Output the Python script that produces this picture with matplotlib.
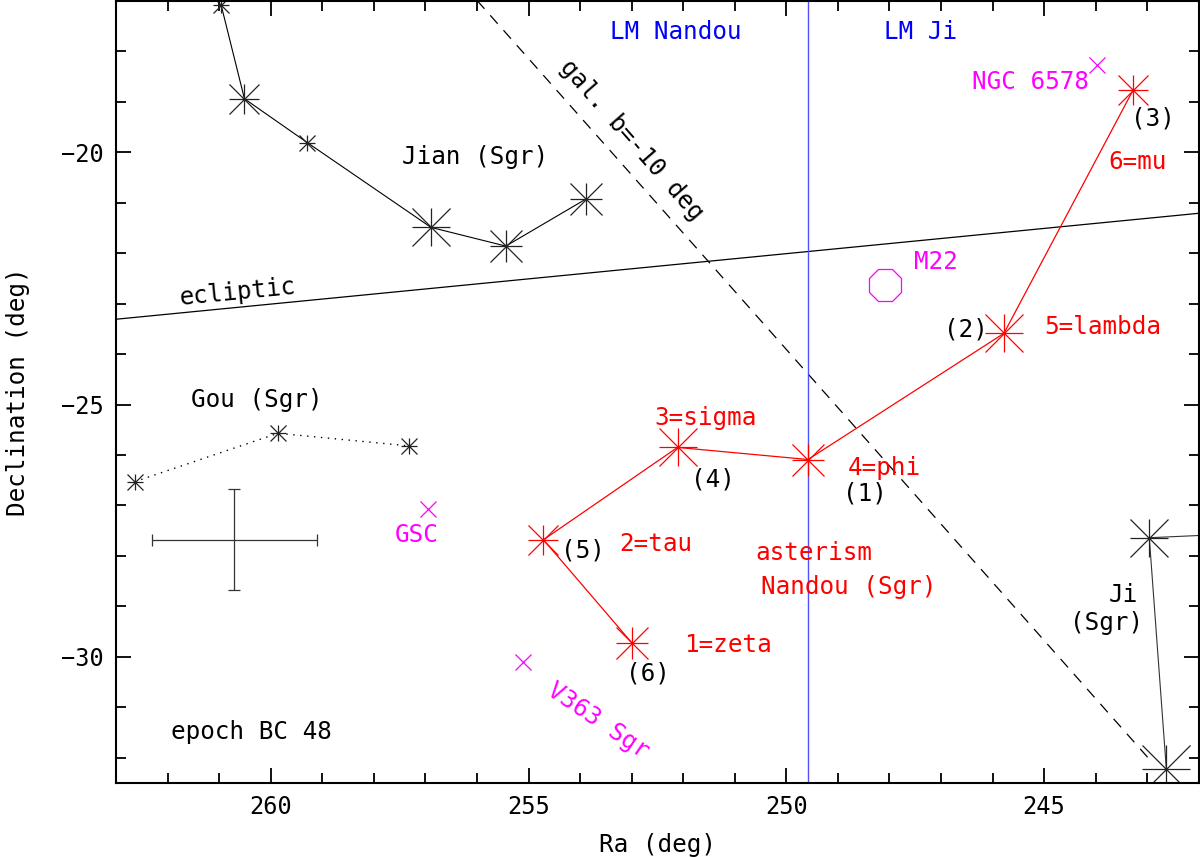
import numpy as np
import matplotlib
matplotlib.use("Agg")
import matplotlib.pyplot as plt
from matplotlib.ticker import MultipleLocator

plt.rcParams['font.family'] = ['DejaVu Sans Mono']

# Jian (Sgr)
jian_ra = [260.96, 260.51, 259.29, 256.89, 255.44, 253.89]
jian_dec = [-17.09, -18.94, -19.81, -21.49, -21.86, -20.93]
jian_ms = [11, 22, 11, 28, 23, 23]

# Gou (Sgr)
gou_ra = [262.64, 259.86, 257.32]
gou_dec = [-26.53, -25.57, -25.82]

# Nandou (Sgr) asterism: zeta, tau, sigma, phi, lambda, mu
nan_ra = [252.99, 254.71, 252.11, 249.58, 245.78, 243.27]
nan_dec = [-29.73, -27.68, -25.85, -26.09, -23.59, -18.76]
nan_ms = [23, 22, 27, 23, 27, 22]
nan_names = ["1=zeta", "2=tau", "3=sigma", "4=phi", "5=lambda", "6=mu"]
nan_order = ["(6)", "(5)", "(4)", "(1)", "(2)", "(3)"]

# Ji (Sgr)
ji_ra = [241.0, 242.96, 242.63]
ji_dec = [-27.55, -27.64, -32.22]
ji_ms = [0, 28, 34]

# ecliptic and galactic b=-10
ecl_ra = [263.0, 242.0]
ecl_dec = [-23.31, -21.21]
gal_ra = [256.00, 250.90, 242.95]
gal_dec = [-16.99, -22.87, -32.04]

# lunar mansion boundary
lm_ra = 249.58

# other objects
xobj_ra = [243.98, 256.94, 255.11]
xobj_dec = [-18.28, -27.08, -30.11]
m22_ra, m22_dec = 248.09, -22.63

# error cross
err_ra, err_dec = 260.71, -27.68
err_x, err_y = 1.6, 1.0

fig = plt.figure(figsize=(12, 8.57), dpi=100)
ax = fig.add_axes([0.0967, 0.0864, 0.9023, 0.9126])


def star(x, y, ms, color):
    ax.plot(x, y, marker='+', ms=ms, mew=0.9, color=color, ls='none')
    ax.plot(x, y, marker='x', ms=ms, mew=0.9, color=color, ls='none')
    ax.plot(x, y, marker='.', ms=3, color=color, ls='none')


# lines
ax.plot(ecl_ra, ecl_dec, color='black', lw=0.9)
ax.plot(gal_ra, gal_dec, color='black', lw=0.9, dashes=(9, 7))
ax.axvline(lm_ra, color='#5050ff', lw=1.0)

ax.plot(jian_ra, jian_dec, color='black', lw=0.8)
for x, y, s in zip(jian_ra, jian_dec, jian_ms):
    star(x, y, s, '#222222')

ax.plot(gou_ra, gou_dec, color='black', lw=1.0, ls=(0, (1, 4)))
for x, y in zip(gou_ra, gou_dec):
    star(x, y, 12, '#222222')

ax.plot(ji_ra, ji_dec, color='#333333', lw=0.8)
for x, y, s in zip(ji_ra, ji_dec, ji_ms):
    if s > 0:
        star(x, y, s, '#222222')

ax.plot(nan_ra, nan_dec, color='red', lw=0.9)
for x, y, s in zip(nan_ra, nan_dec, nan_ms):
    star(x, y, s, 'red')

ax.errorbar(err_ra, err_dec, xerr=err_x, yerr=err_y, fmt='none',
            ecolor='#333333', elinewidth=0.9, capsize=4, capthick=0.9)

# magenta objects
ax.plot(xobj_ra, xobj_dec, marker='x', ms=12, mew=0.9, color='magenta', ls='none')
ax.plot(m22_ra, m22_dec, marker='8', ms=25, mfc='none', mec='magenta', mew=0.9, ls='none')

fs = 17.5
kw = dict(ha='center', va='center', fontsize=fs)

# Nandou labels
name_pos = [(251.13, -29.76), (252.53, -27.77), (251.57, -25.27),
            (248.09, -26.26), (243.86, -23.47), (243.18, -20.19)]
order_pos = [(252.68, -30.34), (253.94, -27.89), (251.42, -26.48),
             (248.48, -26.76), (246.52, -23.52), (242.89, -19.33)]
for t, (x, y) in zip(nan_names, name_pos):
    ax.text(x, y, t, color='red', **kw)
for t, (x, y) in zip(nan_order, order_pos):
    ax.text(x, y, t, color='black', **kw)
ax.text(249.46, -27.94, "asterism", color='red', **kw)
ax.text(248.79, -28.62, "Nandou (Sgr)", color='red', **kw)

ax.text(256.04, -20.10, "Jian (Sgr)", color='black', **kw)
ax.text(260.27, -24.91, "Gou (Sgr)", color='black', **kw)
ax.text(243.47, -28.77, "Ji", color='black', **kw)
ax.text(243.79, -29.33, "(Sgr)", color='black', **kw)
ax.text(260.38, -31.49, "epoch BC 48", color='black', **kw)
ax.text(260.65, -22.77, "ecliptic", color='black', rotation=5.6, **kw)
ax.text(253.0, -19.76, "gal. b=-10 deg", color='black', rotation=-48.8, **kw)

ax.text(252.14, -17.62, "LM Nandou", color='blue', **kw)
ax.text(247.40, -17.62, "LM Ji", color='blue', **kw)

ax.text(245.26, -18.61, "NGC 6578", color='magenta', **kw)
ax.text(247.09, -22.17, "M22", color='magenta', **kw)
ax.text(257.16, -27.58, "GSC", color='magenta', **kw)
ax.text(253.65, -31.27, "V363 Sgr", color='magenta', rotation=-34, **kw)

# axes
ax.set_xlim(263, 242)
ax.set_ylim(-32.5, -17)
ax.xaxis.set_major_locator(MultipleLocator(5))
ax.xaxis.set_minor_locator(MultipleLocator(1))
ax.yaxis.set_major_locator(MultipleLocator(5))
ax.yaxis.set_minor_locator(MultipleLocator(1))
ax.tick_params(which='both', direction='in', top=True, right=True, width=1.3)
ax.tick_params(which='major', length=11, labelsize=17, pad=9)
ax.tick_params(which='minor', length=7)
for sp in ax.spines.values():
    sp.set_linewidth(1.5)

ax.set_xlabel("Ra (deg)", fontsize=fs, labelpad=10)
ax.set_ylabel("Declination (deg)", fontsize=fs, labelpad=22)

fig.savefig("out.png", dpi=100)
